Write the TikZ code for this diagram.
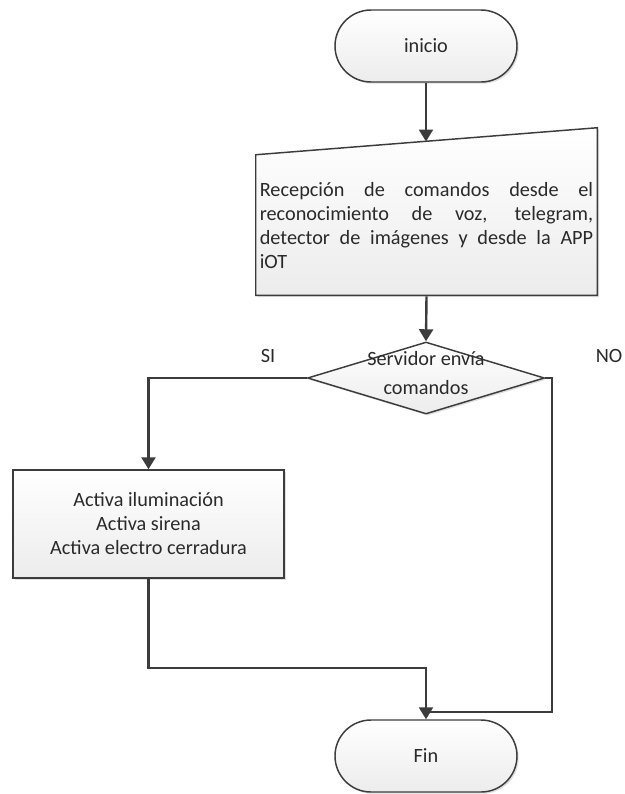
\documentclass[tikz,border=0pt]{standalone}
\usepackage{fontspec}
\setmainfont{Carlito}
\usetikzlibrary{shapes.geometric,arrows.meta,shadows}
\definecolor{trazo}{HTML}{3C3C3C}
\definecolor{relleno}{HTML}{ECECEC}
\definecolor{letra}{HTML}{2A2A2A}
\pgfdeclarelayer{fondo}
\pgfsetlayers{fondo,main}

\tikzset{
	caja/.style={draw=trazo,line width=1.1pt,top color=white,bottom color=relleno,
		drop shadow={opacity=0.25,shadow xshift=1.3pt,shadow yshift=-1.3pt}},
	texto/.style={text=letra,font=\fontsize{15.2}{18}\selectfont},
	terminal/.style={caja,texto,rectangle,rounded corners=27pt,minimum width=136.5pt,minimum height=54pt},
	proceso/.style={caja,texto,rectangle,align=center,minimum width=203pt,minimum height=81pt},
	decision/.style={caja,diamond,inner sep=0pt,minimum width=177.75pt,minimum height=54pt},
	linea/.style={draw=trazo,line width=1.8pt},
	flecha/.style={linea,-{Triangle[width=10.5pt,length=9pt]}}
}

\begin{document}
\begin{tikzpicture}[x=0.75pt,y=-0.75pt]
	\useasboundingbox (0,0) rectangle (625,794);
	\coordinate (entrada) at (426,141.5);
	\coordinate (union) at (426,712);
	
	\node[terminal] (inicio) at (426,46) {inicio};
	
	\node[texto,text width=250pt,inner xsep=2.875pt,minimum height=105pt,align=justify] (recep) at (426.5,226)
	{Recepción de comandos desde el\linebreak reconocimiento de voz, telegram,\linebreak detector de imágenes y desde la APP\linebreak iOT};
	\begin{pgfonlayer}{fondo}
		\draw[caja] ([yshift=0.75pt]recep.south west) -- ([yshift=0.75pt]recep.south east) -- ([yshift=21pt]recep.north east) -- ([yshift=0.75pt]recep.north west) -- cycle;
	\end{pgfonlayer}
	
	\node[decision] (dec) at (426,378) {};
	\node[texto,align=center] (dectxt) at (426,373) {Servidor envía\\[4pt]comandos};
	
	\node[proceso] (act) at (148.5,524) {Activa iluminación\\Activa sirena\\Activa electro cerradura};
	\node[terminal] (fin) at (426,756) {Fin};
	
	\node[texto] (si) at (268,356) {SI};
	\node[texto] (no) at (609,356) {NO};
	
	\draw[flecha] (inicio) -- (entrada);
	\draw[flecha] (recep.south) -- (dec.north);
	\draw[flecha] (dec.west) -| (act.north);
	\draw[linea] (dec.east) -- ++(7,0) |- (union);
	\draw[flecha] (act.south) -- ++(0,89) -| (fin.north);
\end{tikzpicture}
\end{document}
